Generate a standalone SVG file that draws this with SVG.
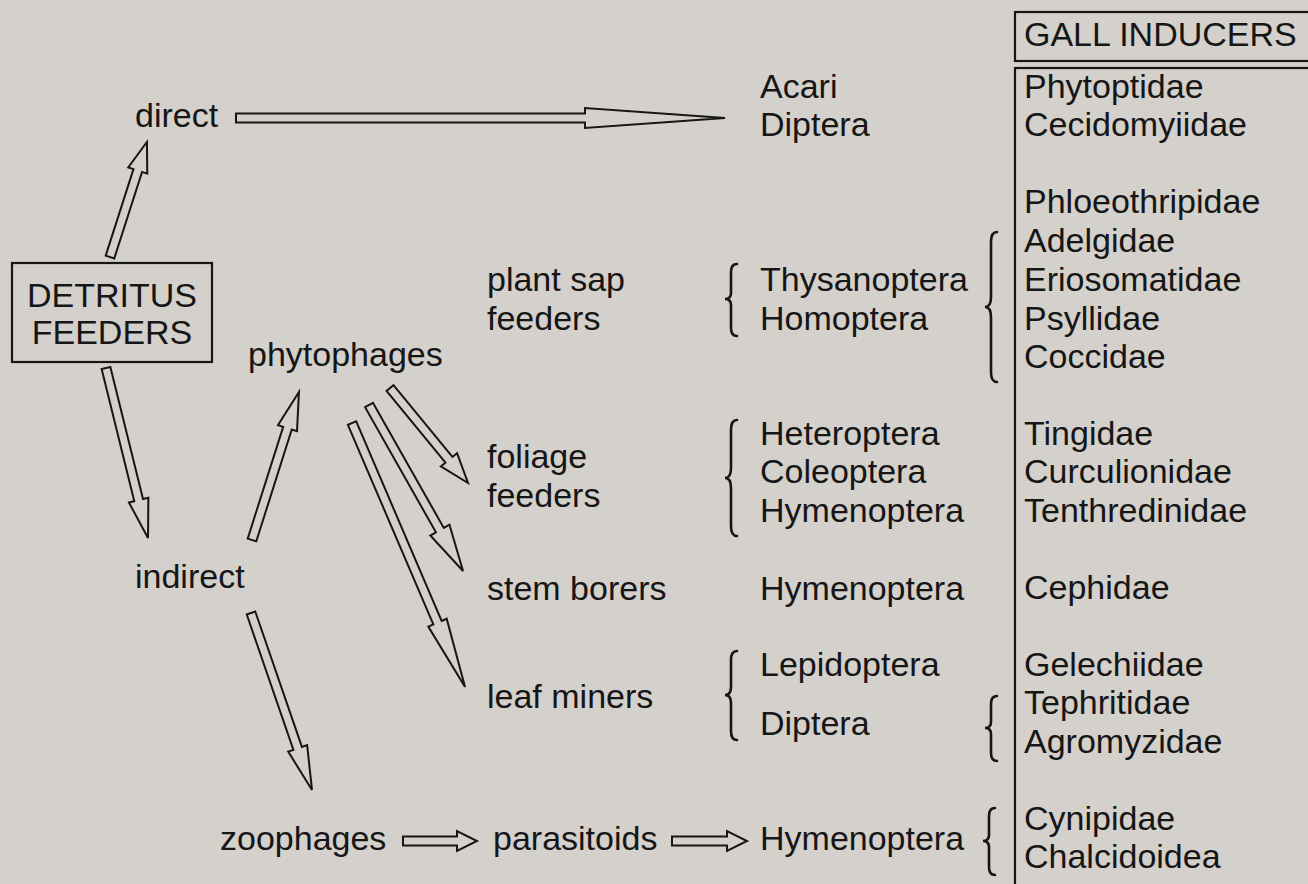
<svg xmlns="http://www.w3.org/2000/svg" width="1308" height="884" viewBox="0 0 1308 884">
<style>
text{font-family:"Liberation Sans",Arial,Helvetica,sans-serif;font-size:34px;fill:#161616}
.box{fill:none;stroke:#161616;stroke-width:2.2}
.arr{fill:none;stroke:#161616;stroke-width:2;stroke-linejoin:miter}
.br{fill:none;stroke:#161616;stroke-width:2.6;stroke-linecap:round}
</style>
<rect width="1308" height="884" fill="#d4d0cb"/>

<g id="connectors">
  <polygon class="arr" transform="translate(236,118)" points="0,-4.5 349,-4.5 349,-10 489,0 349,10 349,4.5 0,4.5"/>
  <polygon class="arr" transform="translate(110,257) rotate(-72.2)" points="0,-4.5 90.8,-4.5 90.8,-10 120.8,0 90.8,10 90.8,4.5 0,4.5"/>
  <polygon class="arr" transform="translate(106,368) rotate(76.12)" points="0,-4.5 136.1,-4.5 136.1,-10 175.1,0 136.1,10 136.1,4.5 0,4.5"/>
  <polygon class="arr" transform="translate(252,540) rotate(-72.4)" points="0,-4.5 117.3,-4.5 117.3,-10 155.3,0 117.3,10 117.3,4.5 0,4.5"/>
  <polygon class="arr" transform="translate(251,613) rotate(70.98)" points="0,-4.5 143.2,-4.5 143.2,-10 187.2,0 143.2,10 143.2,4.5 0,4.5"/>
  <polygon class="arr" transform="translate(390,388) rotate(50.61)" points="0,-4.5 92.9,-4.5 92.9,-10.5 122.9,0 92.9,10.5 92.9,4.5 0,4.5"/>
  <polygon class="arr" transform="translate(369,405) rotate(60.47)" points="0,-4.5 143.8,-4.5 143.8,-11 190.8,0 143.8,11 143.8,4.5 0,4.5"/>
  <polygon class="arr" transform="translate(352,423) rotate(66.82)" points="0,-4.5 217.2,-4.5 217.2,-10 287.2,0 217.2,10 217.2,4.5 0,4.5"/>
  <polygon class="arr" transform="translate(403,841)" points="0,-4.5 54,-4.5 54,-10 74,0 54,10 54,4.5 0,4.5"/>
  <polygon class="arr" transform="translate(672,841)" points="0,-4.5 55,-4.5 55,-10 75,0 55,10 55,4.5 0,4.5"/>
</g>

<g id="n-detritus">
  <rect class="box" x="12" y="263" width="200" height="99"/>
  <text x="112" y="307" text-anchor="middle">DETRITUS</text>
  <text x="112" y="344" text-anchor="middle">FEEDERS</text>
</g>
<g id="n-direct"><text x="135" y="127">direct</text></g>
<g id="n-indirect"><text x="135" y="588">indirect</text></g>
<g id="n-phytophages"><text x="248" y="366">phytophages</text></g>
<g id="n-zoophages"><text x="220" y="850">zoophages</text></g>
<g id="n-parasitoids"><text x="493" y="850">parasitoids</text></g>

<g id="n-plantsap"><text x="487" y="291">plant sap</text><text x="487" y="330">feeders</text></g>
<g id="n-foliage"><text x="487" y="468">foliage</text><text x="487" y="507">feeders</text></g>
<g id="n-stemborers"><text x="487" y="600">stem borers</text></g>
<g id="n-leafminers"><text x="487" y="708">leaf miners</text></g>

<g id="n-direct-orders"><text x="760" y="98">Acari</text><text x="760" y="136">Diptera</text></g>
<g id="n-sap-orders">
  <path class="br" d="M737,264 Q731,264 731,272 L731,293 Q731,299 725,299 Q731,299 731,305 L731,328 Q731,336 737,336"/>
  <text x="760" y="291">Thysanoptera</text><text x="760" y="330">Homoptera</text>
  <path class="br" d="M997,232 Q991,232 991,242 L991,297 Q991,307 985,307 Q991,307 991,317 L991,372 Q991,382 997,382"/>
</g>
<g id="n-foliage-orders">
  <path class="br" d="M737,420 Q731,420 731,430 L731,468 Q731,478 725,478 Q731,478 731,488 L731,526 Q731,536 737,536"/>
  <text x="760" y="445">Heteroptera</text><text x="760" y="483">Coleoptera</text><text x="760" y="522">Hymenoptera</text>
</g>
<g id="n-stem-orders"><text x="760" y="600">Hymenoptera</text></g>
<g id="n-leaf-orders">
  <path class="br" d="M737,651 Q731,651 731,660 L731,687 Q731,695 725,695 Q731,695 731,703 L731,731 Q731,740 737,740"/>
  <text x="760" y="676">Lepidoptera</text><text x="760" y="735">Diptera</text>
  <path class="br" d="M997,696 Q991,696 991,704 L991,722 Q991,728 985,728 Q991,728 991,734 L991,753 Q991,761 997,761"/>
</g>
<g id="n-parasitoid-orders">
  <text x="760" y="850">Hymenoptera</text>
  <path class="br" d="M995,808 Q989,808 989,816 L989,835 Q989,841 983,841 Q989,841 989,847 L989,867 Q989,875 995,875"/>
</g>

<g id="n-gall-header">
  <rect class="box" x="1015" y="12" width="310" height="49"/>
  <text x="1024" y="46">GALL INDUCERS</text>
</g>
<g id="n-gall-list">
  <rect class="box" x="1015" y="68" width="310" height="840"/>
  <text x="1024" y="98">Phytoptidae</text>
  <text x="1024" y="136">Cecidomyiidae</text>
  <text x="1024" y="213">Phloeothripidae</text>
  <text x="1024" y="252">Adelgidae</text>
  <text x="1024" y="291">Eriosomatidae</text>
  <text x="1024" y="330">Psyllidae</text>
  <text x="1024" y="368">Coccidae</text>
  <text x="1024" y="445">Tingidae</text>
  <text x="1024" y="483">Curculionidae</text>
  <text x="1024" y="522">Tenthredinidae</text>
  <text x="1024" y="599">Cephidae</text>
  <text x="1024" y="676">Gelechiidae</text>
  <text x="1024" y="714">Tephritidae</text>
  <text x="1024" y="753">Agromyzidae</text>
  <text x="1024" y="830">Cynipidae</text>
  <text x="1024" y="868">Chalcidoidea</text>
</g>
</svg>
